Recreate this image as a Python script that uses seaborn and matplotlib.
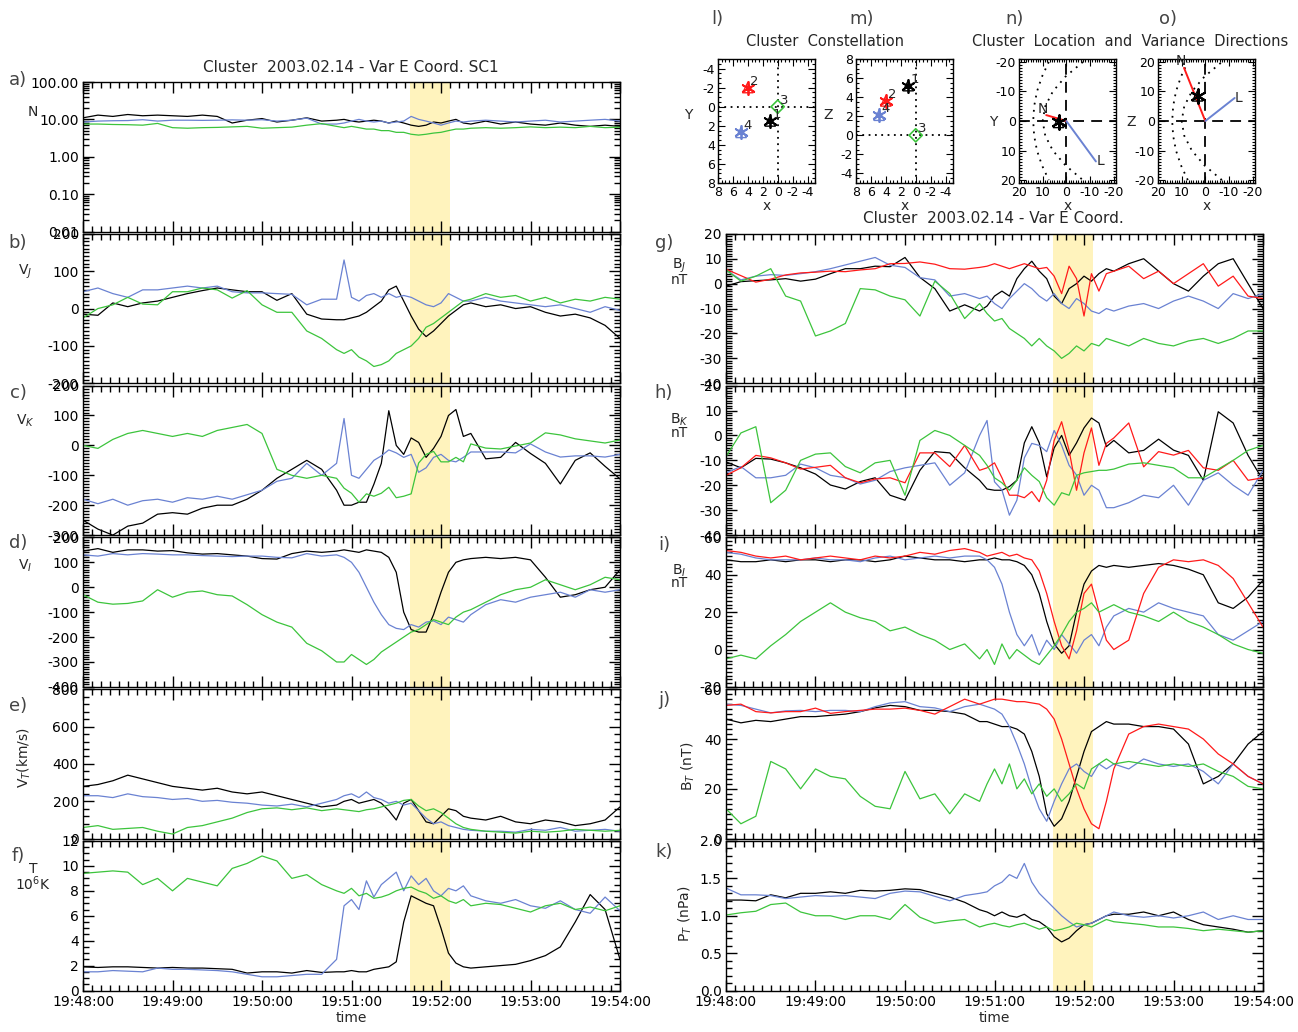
import numpy as np
import pandas as pd
import seaborn as sns
import matplotlib
matplotlib.use('Agg')
from matplotlib import pyplot as plt
from matplotlib.ticker import MultipleLocator, FuncFormatter, FormatStrFormatter, FixedLocator, LogLocator, NullFormatter

### time grid, seconds after 19:48:00 ###
t_sec = [0, 10, 20, 30, 40, 50, 60, 70, 80, 90, 100, 110, 120, 130, 140, 150, 160, 170,
         175, 180, 185, 190, 195, 200, 205, 210, 215, 220, 225, 230, 235, 240, 245, 250, 255, 260,
         270, 280, 290, 300, 310, 320, 330, 340, 350, 360]
band = (219, 246)

### left column (SC1 plasma) ###
a_black = [11, 13, 12, 13.5, 12.5, 13, 12.5, 12, 13, 12, 8, 9.5, 10.5, 8.5, 9.5, 11, 9, 9.5,
           10, 9, 8.5, 9, 9.5, 9, 8, 9, 8, 7, 6.5, 7, 8.5, 8, 9, 10, 8, 7.5,
           9, 7.5, 8.5, 7.5, 7, 8, 7, 6.5, 7, 6.5]
a_blue = [8.5, 9, 9.2, 9.3, 9.8, 9, 9.5, 9.5, 9.4, 9.5, 9.7, 9.5, 9.8, 9, 9.5, 10.8, 7.5, 7.5,
          8, 9, 10, 9, 8.5, 9, 8, 8.5, 9, 12, 10, 9, 8, 7, 8, 9, 8.5, 9,
          9.5, 9, 8.5, 9, 9.5, 8.5, 9, 9.5, 10, 9]
a_green = [7.5, 7.5, 7.3, 7.2, 7, 7.8, 6, 5.8, 6, 6.1, 6.3, 6.5, 5.8, 6, 6.2, 7, 7.7, 6.5,
           6, 6.5, 6, 5.5, 5.5, 5, 5, 4.5, 4.5, 4, 3.8, 4, 4.3, 4.5, 5, 5.5, 5.5, 5.8,
           6, 5.8, 6, 6.3, 6, 6.2, 6, 6.5, 6, 6.2]

b_black = [-15, -18, 15, 5, 15, 20, 30, 40, 48, 55, 50, 45, 45, 22, 40, -15, -28, -30,
           -30, -25, -20, -10, 5, 20, 50, 60, 20, -20, -55, -75, -60, -40, -20, -5, 10, 15,
           5, 10, 0, 5, -10, -20, -15, -25, -45, -80]
b_blue = [45, 55, 40, 30, 50, 50, 55, 60, 55, 60, 45, 42, 42, 40, 38, 10, 25, 25,
          130, 30, 20, 35, 40, 30, 40, 30, 35, 30, 20, 10, 5, 15, 40, 30, 20, 20,
          30, 20, 15, 10, 5, 10, 0, -10, 5, -5]
b_green = [-25, 0, 10, 30, 12, 10, 45, 45, 55, 50, 28, 48, 10, -10, -10, -60, -80, -110,
           -120, -110, -130, -140, -155, -150, -140, -120, -110, -100, -80, -50, -40, -25, -10, 5, 20, 25,
           40, 30, 35, 20, 30, 15, 25, 20, 30, 25]

c_black = [-250, -280, -300, -270, -260, -230, -225, -230, -210, -200, -200, -180, -150, -110, -80, -50, -80, -150,
           -200, -200, -190, -190, -130, -60, 116, 0, -30, 25, 10, -40, -10, 30, 100, 120, 30, 40,
           -45, -40, 10, -27, -60, -129, -50, -25, -70, -112]
c_blue = [-180, -195, -180, -200, -185, -180, -190, -175, -180, -170, -180, -165, -150, -120, -110, -60, -100, -60,
          90, -100, -110, -80, -50, -35, -15, -25, -40, -30, -90, -75, -40, -30, -50, -55, -40, -22,
          -22, -22, -25, 5, -22, -39, -35, -35, -39, -30]
c_green = [0, -10, 20, 40, 50, 40, 30, 40, 30, 50, 60, 70, 40, -80, -100, -110, -100, -110,
           -143, -160, -190, -162, -170, -160, -140, -175, -170, -162, -59, -30, -20, -55, -55, -40, -55, 5,
           -9, -12, -2, 8, 42, 35, 22, 15, 8, 18]

d_black = [145, 155, 140, 150, 150, 145, 147, 138, 133, 135, 130, 125, 115, 113, 135, 145, 140, 145,
           150, 145, 140, 150, 145, 140, 120, 60, -100, -170, -180, -180, -110, -20, 60, 100, 110, 115,
           120, 115, 120, 110, 40, -40, -30, -10, 0, 70]
d_blue = [130, 125, 135, 130, 135, 133, 130, 130, 127, 125, 123, 125, 125, 120, 118, 135, 125, 130,
          120, 100, 60, 0, -60, -110, -150, -165, -170, -150, -160, -140, -135, -150, -120, -130, -140, -110,
          -70, -50, -60, -40, -30, -20, -40, -10, -20, -10]
d_green = [-30, -60, -68, -65, -55, -10, -40, -20, -15, -30, -35, -70, -110, -140, -160, -225, -255, -300,
           -300, -270, -290, -310, -290, -260, -240, -220, -200, -180, -170, -150, -130, -140, -150, -120, -100, -90,
           -60, -30, -10, 0, 30, 10, -10, 10, 40, 30]

e_black = [280, 290, 310, 340, 320, 300, 280, 270, 260, 270, 250, 240, 250, 230, 210, 190, 170, 180,
           200, 210, 190, 200, 210, 190, 150, 100, 190, 210, 150, 90, 80, 120, 160, 150, 120, 110,
           100, 120, 90, 80, 100, 90, 70, 80, 100, 170]
e_blue = [230, 230, 220, 240, 225, 220, 210, 215, 200, 205, 195, 190, 180, 175, 185, 170, 190, 210,
          230, 240, 220, 250, 220, 210, 190, 200, 180, 190, 150, 110, 80, 90, 70, 60, 50, 45,
          40, 40, 35, 50, 45, 60, 40, 45, 50, 40]
e_green = [60, 70, 50, 55, 60, 40, 25, 60, 70, 90, 110, 140, 160, 165, 155, 165, 150, 160,
           155, 150, 145, 155, 160, 170, 180, 190, 205, 210, 175, 150, 160, 140, 110, 80, 60, 50,
           40, 35, 30, 40, 35, 40, 50, 45, 40, 45]

f_black = [1.9, 1.85, 1.9, 1.9, 1.85, 1.8, 1.85, 1.8, 1.8, 1.75, 1.7, 1.4, 1.5, 1.5, 1.4, 1.6, 1.45, 1.5,
           1.5, 1.6, 1.5, 1.5, 1.7, 1.8, 1.9, 2.3, 5.5, 7.6, 7.3, 7.0, 6.8, 5.0, 3.0, 2.2, 1.9, 1.8,
           1.9, 2.0, 2.1, 2.4, 2.8, 3.5, 5.5, 7.7, 6.5, 2.5]
f_blue = [1.5, 1.5, 1.6, 1.55, 1.5, 1.8, 1.7, 1.7, 1.65, 1.6, 1.5, 1.3, 1.1, 1.1, 1.2, 1.3, 1.3, 2.5,
          6.8, 7.3, 6.5, 8.8, 7.5, 8.5, 9.0, 9.5, 8.0, 9.2, 8.5, 9.0, 8.0, 7.6, 8.2, 8.0, 8.4, 7.6,
          7.2, 7.0, 7.3, 6.8, 6.6, 7.2, 6.5, 6.2, 7.5, 6.4]
f_green = [9.4, 9.5, 9.6, 9.5, 8.5, 9.0, 8.0, 9.0, 8.7, 8.4, 9.8, 10.2, 10.8, 10.4, 9.0, 9.3, 8.5, 8.0,
           7.8, 8.2, 7.6, 7.8, 7.4, 7.5, 7.7, 8.0, 8.2, 8.3, 8.0, 7.8, 7.4, 7.6, 7.2, 7.0, 7.3, 6.8,
           7.0, 6.9, 6.6, 6.3, 6.8, 7.0, 6.5, 6.7, 6.4, 6.8]

### right column (magnetic field, 4 spacecraft) ###
g_black = [-1, 0.8, 1.2, 1.5, 2, 1, 1.8, 4, 6, 6, 7, 6.8, 10.5, 2.5, -2, -11, -8.5, -11,
           -9, -5, -3, -5, 2, 6, 9, 5, 2, -5, -8, -2, 0, 3, 1, 4, 6, 5,
           8, 10, 5, 0, -3, 3, 8, 10, 0, -10]
g_blue = [5.5, 1.5, 3, 3.6, 3.3, 4, 4.8, 6, 7.5, 9, 10.5, 7.4, 6.5, 2.4, 1.5, -5, -4, -6,
          -5, -8, -10, -6, -3, 0, -2, -5, -7, -4, -8, -10, -6, -8, -11, -12, -10, -11,
          -9, -8, -10, -7, -5, -7, -10, -4, -6, -4]
g_red = [5.8, 3.2, 0.6, 1.8, 3.5, 4.3, 4.6, 5, 4.8, 5.5, 6, 8, 8.1, 8.7, 7.8, 6, 5.8, 6.5,
         7, 8, 7, 6, 7, 8, 7, 6, 6.5, 3, -4, 7, 2, -13, 4, -3, 4, 5,
         7, 2, 5, 0, 4, 8, -1, 3, -5, -6]
g_green = [5.5, 1, 3, 6, -5, -7, -21, -19, -16, -2, -2.5, -5, -6.5, -13, 1, -4, -14, -8,
           -12, -15, -14, -18, -20, -22, -25, -22, -25, -27, -30, -28, -25, -27, -24, -25, -22, -23,
           -25, -22, -24, -25, -23, -22, -24, -22, -19, -19]

h_black = [-10.6, -13, -9.2, -9.5, -11, -13, -15.5, -19.9, -21.5, -18.5, -17, -24, -26, -14, -6.5, -7, -13, -18,
           -21.5, -22, -22, -20.5, -18, -3, 3.5, -3, -16.6, -5, 0, -8, -3, 3, 7, 5, -4.5, -2,
           -7, -6, -1.5, -5.9, -8, -18, 9.5, 5, -8, -18]
h_blue = [-15, -12.5, -17, -17, -16, -11.5, -13, -16, -17, -19.5, -18, -14.5, -13, -12, -11, -20, -15, 0,
          6, -18.6, -21.9, -32, -26, -9, -3.2, -4, -6.5, 2, -4, -12, -15.9, -24, -20, -22, -29, -29,
          -27, -24, -25, -20, -28, -18, -15, -20, -24, -14]
h_red = [-16, -13, -8, -9, -11, -13.5, -12.8, -12, -17, -19, -17.5, -17, -19, -7, -7, -12.5, -4, -14,
         -13, -11, -17, -24, -24, -25, -22.5, -26.6, -18, -2, 5.5, -6, -22, -7, 3, -12, -3.2, -1,
         5, -12.6, -6.5, -7.9, -6, -13, -14, -10, -18, -17]
h_green = [-8.5, 1, 3.5, -27, -22, -10, -7.5, -7, -12.5, -15, -11, -10, -24, -2, 2, 0, -4, -8,
           -12, -17, -19, -22, -18, -13, -16, -18.5, -25, -28, -23, -24, -16, -15, -14.5, -14, -14, -13.5,
           -11.5, -11, -12, -13, -17, -17, -13.5, -10, -6, -4]

i_black = [48, 47, 47, 48, 47, 48, 48, 47, 48, 48, 47, 48, 50, 49, 48, 48, 47, 48,
           48, 49, 48, 48, 47, 45, 40, 30, 15, 3, -2, 2, 20, 35, 42, 45, 44, 45,
           44, 45, 46, 45, 43, 40, 25, 22, 28, 37]
i_blue = [52, 51, 49, 48, 48, 48, 49, 48, 48, 47, 49, 50, 48, 49, 50, 49, 50, 50,
          48, 44, 35, 20, 8, 2, 8, -3, 5, 0, 8, 3, -2, 5, 8, 2, 12, 18,
          22, 20, 25, 22, 20, 18, 8, 5, 10, 15]
i_red = [53, 52, 50, 49, 50, 48, 49, 50, 49, 48, 50, 49, 50, 52, 51, 53, 54, 52,
         50, 51, 52, 50, 51, 49, 48, 42, 30, 15, 2, -5, 10, 30, 35, 20, 5, 0,
         5, 30, 44, 48, 47, 48, 45, 38, 25, 12]
i_green = [-5, -3, -5, 2, 8, 15, 20, 25, 20, 17, 15, 10, 12, 8, 5, 0, 3, -5,
           0, -8, 3, -5, 0, -3, -6, -8, -3, 2, 8, 15, 20, 22, 25, 20, 22, 24,
           20, 18, 15, 20, 15, 12, 8, 3, 0, -2]

j_black = [48, 46.5, 47.5, 47, 48, 49, 49, 49.5, 50, 51, 52.5, 53.5, 53, 51.5, 51.5, 51, 50, 47,
           47, 46, 45, 45, 44, 42, 35, 25, 10, 5, 8, 15, 25, 35, 43, 45, 47, 46,
           46, 45, 45, 44, 38, 22, 25, 30, 38, 43]
j_blue = [54, 53.5, 52, 50.5, 51.3, 51.5, 51, 51.5, 51.5, 51, 53, 54.5, 55, 53, 52.5, 51, 53, 54,
          53, 52, 50, 45, 38, 30, 20, 12, 7, 15, 22, 28, 30, 27, 25, 30, 28, 30,
          28, 32, 30, 29, 30, 27, 22, 30, 25, 22]
j_red = [53.5, 54, 51, 50.5, 51, 51, 52.4, 50.3, 51, 51.5, 52, 52, 52.4, 51.5, 50, 53, 56, 54,
         55, 56, 56, 55.5, 55, 55, 54.5, 54, 52, 48, 40, 30, 20, 12, 6, 4, 15, 28,
         42, 45, 46, 45, 44, 40, 34, 30, 25, 22]
j_green = [12, 6, 9, 31, 28, 20, 28, 25, 24, 17, 13, 12, 27, 16, 18, 10, 18, 15,
           22, 28, 22, 30, 20, 24, 18, 22, 17, 20, 15, 18, 22, 20, 28, 30, 32, 30,
           31, 30, 29, 30, 29, 30, 27, 25, 21, 20]

k_black = [1.21, 1.21, 1.2, 1.28, 1.24, 1.3, 1.3, 1.32, 1.3, 1.34, 1.33, 1.34, 1.36, 1.35, 1.3, 1.25, 1.18, 1.08,
           1.05, 1.0, 1.05, 1.0, 0.98, 1.02, 0.95, 0.92, 0.85, 0.72, 0.65, 0.7, 0.8, 0.88, 0.9, 0.95, 1.0, 1.02,
           1.02, 1.05, 1.0, 1.05, 0.95, 0.88, 0.85, 0.82, 0.78, 0.8]
k_blue = [1.37, 1.28, 1.28, 1.27, 1.23, 1.25, 1.27, 1.26, 1.27, 1.25, 1.23, 1.3, 1.33, 1.32, 1.26, 1.2, 1.27, 1.3,
          1.32, 1.4, 1.45, 1.55, 1.5, 1.7, 1.45, 1.3, 1.2, 1.1, 1.0, 0.92, 0.85, 0.88, 0.9, 0.95, 1.0, 1.05,
          1.0, 0.98, 1.0, 0.97, 1.0, 1.05, 0.95, 1.0, 0.95, 0.95]
k_green = [1.01, 1.04, 1.06, 1.15, 1.17, 1.05, 1.0, 1.0, 0.95, 1.0, 1.0, 0.95, 1.15, 0.98, 0.9, 0.93, 0.95, 0.85,
           0.88, 0.9, 0.87, 0.85, 0.88, 0.9, 0.86, 0.82, 0.85, 0.8, 0.82, 0.85, 0.9, 0.88, 0.85, 0.9, 0.95, 0.92,
           0.9, 0.88, 0.85, 0.85, 0.83, 0.8, 0.82, 0.8, 0.78, 0.8]

### constellation (relative positions) ###
sc_names = ['1', '2', '3', '4']
sc_x = [1.0, 4.0, 0.0, 4.9]
sc_y = [1.5, -2.0, 0.0, 2.7]
sc_z = [5.2, 3.6, 0.0, 2.1]

### location and variance directions ###
cl_x, cl_y, cl_z = 3.3, 0.5, 8.5
n_vec_xy = (8.5, -2.0)
l_vec_xy = (-12.5, 13.7)
n_vec_xz = (9.0, 18.0)
l_vec_xz = (-12.4, 7.8)
curve_s = [-20, -15, -10, -5, 0, 5, 10, 15, 20]
mp_x = [-7, 0.4, 5.7, 8.9, 10, 8.9, 5.7, 0.4, -7]
bs_x = [7.4, 10.3, 12.4, 13.6, 14, 13.6, 12.4, 10.3, 7.4]

BLACK, BLUE, GREEN, RED = 'black', '#6a82d2', '#3cc43c', '#ff1a1a'
BAND_COLOR = '#fff3bd'

sns.set_theme(style='ticks')
plt.rcParams['font.family'] = ['DejaVu Sans']
plt.rcParams['axes.unicode_minus'] = False
plt.rcParams['axes.linewidth'] = 1.0

W, H = 1298, 1032
fig = plt.figure(figsize=(W / 100, H / 100), dpi=100)


def box(x0, y0, w, h):
    return [x0 / W, 1 - (y0 + h) / H, w / W, h / H]


def tlabel(v, pos):
    v = int(round(v))
    return '19:%02d:%02d' % (48 + v // 60, v % 60)


def time_panel(x0, row, series, colors, ylim, major, minor, fmt=None, log=False, bottom=False):
    ax = fig.add_axes(box(x0, 82 + row * 151.8, 537, 149.5))
    ax.axvspan(band[0], band[1], color=BAND_COLOR, lw=0, zorder=0)
    if log:
        ax.set_yscale('log')
    for vals, c in zip(series, colors):
        sns.lineplot(x=t_sec, y=vals, ax=ax, color=c, linewidth=0.9, estimator=None, sort=False)
    ax.set_xlim(0, 360)
    ax.set_ylim(*ylim)
    ax.xaxis.set_major_locator(MultipleLocator(60))
    ax.xaxis.set_minor_locator(MultipleLocator(6))
    if log:
        ax.yaxis.set_major_locator(FixedLocator([0.01, 0.1, 1, 10, 100]))
        ax.yaxis.set_minor_locator(LogLocator(base=10, subs=range(2, 10)))
        ax.yaxis.set_minor_formatter(NullFormatter())
    else:
        ax.yaxis.set_major_locator(MultipleLocator(major))
        ax.yaxis.set_minor_locator(MultipleLocator(minor))
    if fmt:
        ax.yaxis.set_major_formatter(FormatStrFormatter(fmt))
    ax.tick_params(which='both', direction='in', top=True, right=True, labelsize=10, width=1, colors='black')
    ax.tick_params(which='major', length=8, pad=3)
    ax.tick_params(which='minor', length=4)
    if bottom:
        ax.xaxis.set_major_formatter(FuncFormatter(tlabel))
        ax.set_xlabel('time', fontsize=10, labelpad=2)
    else:
        ax.set_xticklabels([])
        ax.set_xlabel('')
    ax.set_ylabel('')
    for s in ax.spines.values():
        s.set_color('black')
    return ax


LX, RX = 83, 726
c3 = [BLACK, BLUE, GREEN]
c4 = [BLACK, BLUE, RED, GREEN]

time_panel(LX, 0, [a_black, a_blue, a_green], c3, (0.01, 100), None, None, fmt='%.2f', log=True)
time_panel(LX, 1, [b_black, b_blue, b_green], c3, (-200, 200), 100, 10)
time_panel(LX, 2, [c_black, c_blue, c_green], c3, (-300, 200), 100, 10)
time_panel(LX, 3, [d_black, d_blue, d_green], c3, (-400, 200), 100, 10)
time_panel(LX, 4, [e_black, e_blue, e_green], c3, (0, 800), 200, 40)
time_panel(LX, 5, [f_black, f_blue, f_green], c3, (0, 12), 2, 0.5, bottom=True)

time_panel(RX, 1, [g_black, g_blue, g_red, g_green], c4, (-40, 20), 10, 1)
time_panel(RX, 2, [h_black, h_blue, h_red, h_green], c4, (-40, 20), 10, 1)
time_panel(RX, 3, [i_black, i_blue, i_red, i_green], c4, (-20, 60), 20, 2)
time_panel(RX, 4, [j_black, j_blue, j_red, j_green], c4, (0, 60), 20, 2)
time_panel(RX, 5, [k_black, k_blue, k_green], c3, (0, 2.0), 0.5, 0.1, fmt='%.1f', bottom=True)


def ptext(x, y, s, **kw):
    kw.setdefault('fontsize', 10)
    kw.setdefault('ha', 'center')
    kw.setdefault('va', 'center')
    fig.text(x / W, 1 - y / H, s, **kw)


### panel letters ###
for lab, x, y in [('a)', 18, 80), ('b)', 18, 243), ('c)', 18, 393), ('d)', 18, 543), ('e)', 18, 706),
                  ('f)', 18, 856), ('g)', 664, 243), ('h)', 664, 393), ('i)', 664, 545), ('j)', 664, 700),
                  ('k)', 664, 852), ('l)', 717, 19), ('m)', 862, 19), ('n)', 1015, 19), ('o)', 1168, 19)]:
    ptext(x, y, lab, fontsize=13, color='#444444')

### y labels ###
ptext(33, 112, 'N')
ptext(25, 272, 'V$_J$')
ptext(25, 421, 'V$_K$')
ptext(25, 566, 'V$_I$')
ptext(24, 757, 'V$_T$(km/s)', rotation=90)
ptext(33, 869, 'T')
ptext(33, 884, '10$^6$K')
ptext(679, 266, 'B$_J$')
ptext(679, 280, 'nT')
ptext(679, 420, 'B$_K$')
ptext(679, 433, 'nT')
ptext(679, 571, 'B$_I$')
ptext(679, 583, 'nT')
ptext(688, 766, 'B$_T$ (nT)', rotation=90)
ptext(685, 914, 'P$_T$ (nPa)', rotation=90)

### small panel axis names ###
ptext(688, 115, 'Y')
ptext(828, 115, 'Z')
ptext(993, 122, 'Y')
ptext(1131, 122, 'Z')

### titles ###
ptext(351, 67, 'Cluster  2003.02.14 - Var E Coord. SC1', fontsize=11)
ptext(993, 219, 'Cluster  2003.02.14 - Var E Coord.', fontsize=11)
ptext(825, 42, 'Cluster  Constellation', fontsize=10.5)
ptext(1130, 42, 'Cluster  Location  and  Variance  Directions', fontsize=10.5)


### small panels ###
def small_axes(x0, xlim, ylim, major, minor):
    ax = fig.add_axes(box(x0, 59, 97, 124))
    ax.set_xlim(*xlim)
    ax.set_ylim(*ylim)
    ax.xaxis.set_major_locator(MultipleLocator(major))
    ax.yaxis.set_major_locator(MultipleLocator(major))
    ax.xaxis.set_minor_locator(MultipleLocator(minor))
    ax.yaxis.set_minor_locator(MultipleLocator(minor))
    ax.tick_params(which='both', direction='in', top=True, right=True, labelsize=9, width=0.8, colors='black')
    ax.tick_params(which='major', length=5, pad=2)
    ax.tick_params(which='minor', length=2.5)
    ax.set_ylabel('')
    for s in ax.spines.values():
        s.set_color('black')
    return ax


def constellation(ax, xs, ys):
    ax.axhline(0, color='black', ls=(0, (1, 2.5)), lw=1.3, zorder=1)
    ax.axvline(0, color='black', ls=(0, (1, 2.5)), lw=1.3, zorder=1)
    cols = [BLACK, RED, GREEN, BLUE]
    for name, x, y, c in zip(sc_names, xs, ys, cols):
        if name == '3':
            sns.scatterplot(x=[x], y=[y], ax=ax, marker='D', s=45, facecolor='none', edgecolor=c, linewidth=1.2, zorder=3)
        else:
            sns.scatterplot(x=[x], y=[y], ax=ax, marker='^', s=55, facecolor='none', edgecolor=c, linewidth=1.0, zorder=3)
            sns.scatterplot(x=[x], y=[y], ax=ax, marker=(6, 2, 0), s=90, color=c, linewidth=1.3, zorder=4)
        ax.text(x - 0.35, y, name, fontsize=9.5, ha='left', va='bottom', zorder=5)
    ax.set_xlabel('x', fontsize=10, labelpad=0)
    ax.set_ylabel('')


ax_l = small_axes(718, (8, -5), (8, -5), 2, 0.5)
constellation(ax_l, sc_x, sc_y)

ax_m = small_axes(856, (8, -5), (-5, 8), 2, 0.5)
constellation(ax_m, sc_x, sc_z)


def location(ax, pos, n_vec, l_vec, flip):
    ax.axhline(0, color='black', ls=(0, (6, 4)), lw=1.3, zorder=1)
    ax.axvline(0, color='black', ls=(0, (6, 4)), lw=1.3, zorder=1)
    for cx in (mp_x, bs_x):
        sns.lineplot(x=cx, y=curve_s, ax=ax, color='black', lw=1.3, ls=(0, (1, 3)), sort=False, estimator=None)
    sns.lineplot(x=[0, n_vec[0]], y=[0, n_vec[1]], ax=ax, color=RED, lw=1.4, sort=False, estimator=None)
    sns.lineplot(x=[0, l_vec[0]], y=[0, l_vec[1]], ax=ax, color=BLUE, lw=1.4, sort=False, estimator=None)
    sns.scatterplot(x=[pos[0]], y=[pos[1]], ax=ax, marker='^', s=55, facecolor='none', edgecolor=BLACK, linewidth=1.0, zorder=3)
    sns.scatterplot(x=[pos[0]], y=[pos[1]], ax=ax, marker=(6, 2, 0), s=110, color=BLACK, linewidth=1.5, zorder=4)
    ax.text(n_vec[0] + 1.5, n_vec[1] + 2.2 * flip, 'N', fontsize=10, ha='center', va='center')
    ax.text(l_vec[0] - 1.8, l_vec[1], 'L', fontsize=10, ha='center', va='center')
    ax.set_xticks([20, 10, 0, -10, -20])
    ax.set_yticks([-20, -10, 0, 10, 20])
    ax.set_xlabel('x', fontsize=10, labelpad=0)
    ax.set_ylabel('')


ax_n = small_axes(1019, (20, -21), (21, -21), 10, 1)
location(ax_n, (cl_x, cl_y), n_vec_xy, l_vec_xy, -1)

ax_o = small_axes(1158, (20, -21), (-21, 21), 10, 1)
location(ax_o, (cl_x, cl_z), n_vec_xz, l_vec_xz, 1)

fig.savefig('out.png', dpi=100)
